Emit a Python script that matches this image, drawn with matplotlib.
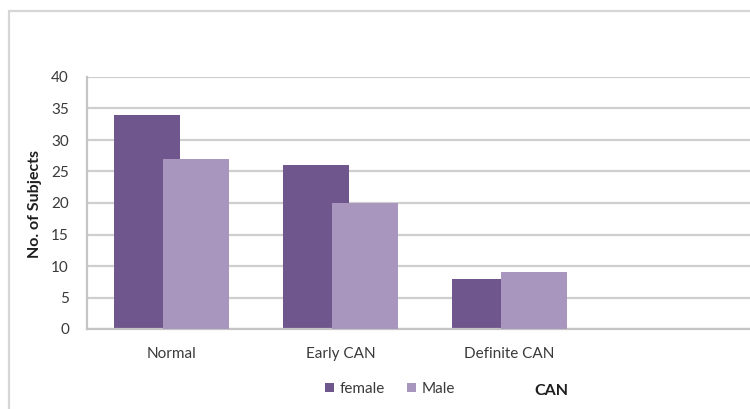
import matplotlib
matplotlib.use("Agg")
import matplotlib.pyplot as plt
from matplotlib.patches import Rectangle
import numpy as np

# Data
categories = ["Normal", "Early CAN", "Definite CAN", ""]
female = [34, 26, 8, None]
male = [27, 20, 9, None]
y_ticks = [0, 5, 10, 15, 20, 25, 30, 35, 40]

plt.rcParams['font.family'] = ['Lato', 'DejaVu Sans']

W, H = 750, 409
fig = plt.figure(figsize=(W / 100, H / 100), dpi=100)

# outer chart border (right/bottom edges fall outside the picture)
fig.patches.append(Rectangle((8.5 / W, -0.1), 1.2, 1 - 10.5 / H + 0.1,
                             transform=fig.transFigure, fill=False,
                             edgecolor="#d6d6d6", linewidth=1.6))

# axes: x from 87px to 763px (last slot empty and partly cut off), y from 77 to 329
left, right, top, bottom = 87, 763, 77, 329
ax = fig.add_axes([left / W, 1 - bottom / H, (right - left) / W, (bottom - top) / H])

x = np.arange(len(categories))
n = 3
bw = 0.39
off = 0.145
ax.bar(x[:n] - off, female[:n], width=bw, color="#6f568c", label="female", zorder=2)
ax.bar(x[:n] + off, male[:n], width=bw, color="#a996bf", label="Male", zorder=3)

ax.set_xlim(-0.5, len(categories) - 0.5)
ax.set_ylim(0, 40)
ax.set_yticks(y_ticks)
ax.set_xticks(x)
ax.set_xticklabels(categories)
ax.yaxis.grid(True, color="#cfcfcf", linewidth=1.6, zorder=0)
ax.set_axisbelow(True)

for s in ["top", "right"]:
    ax.spines[s].set_visible(False)
for s in ["left", "bottom"]:
    ax.spines[s].set_color("#c4c4c4")
    ax.spines[s].set_linewidth(1.6)
ax.tick_params(axis="both", length=0, labelsize=11, colors="#3a3a3a")
ax.tick_params(axis="y", pad=13)
ax.tick_params(axis="x", pad=13)

fig.text(35 / W, 1 - 204 / H, "No. of Subjects", rotation=90, ha="center", va="center",
         fontsize=11.5, fontweight="bold", color="#1e1e1e")
fig.text(551 / W, 1 - 391 / H, "CAN", ha="center", va="center",
         fontsize=11.5, fontweight="bold", color="#1e1e1e")

fig.legend(loc="center", bbox_to_anchor=(390 / W, 1 - 389 / H), ncol=2, frameon=False,
           fontsize=11, handlelength=0.55, handleheight=0.55, handletextpad=0.35,
           columnspacing=1.5, labelcolor="#3a3a3a")

fig.savefig("out.png", dpi=100)
